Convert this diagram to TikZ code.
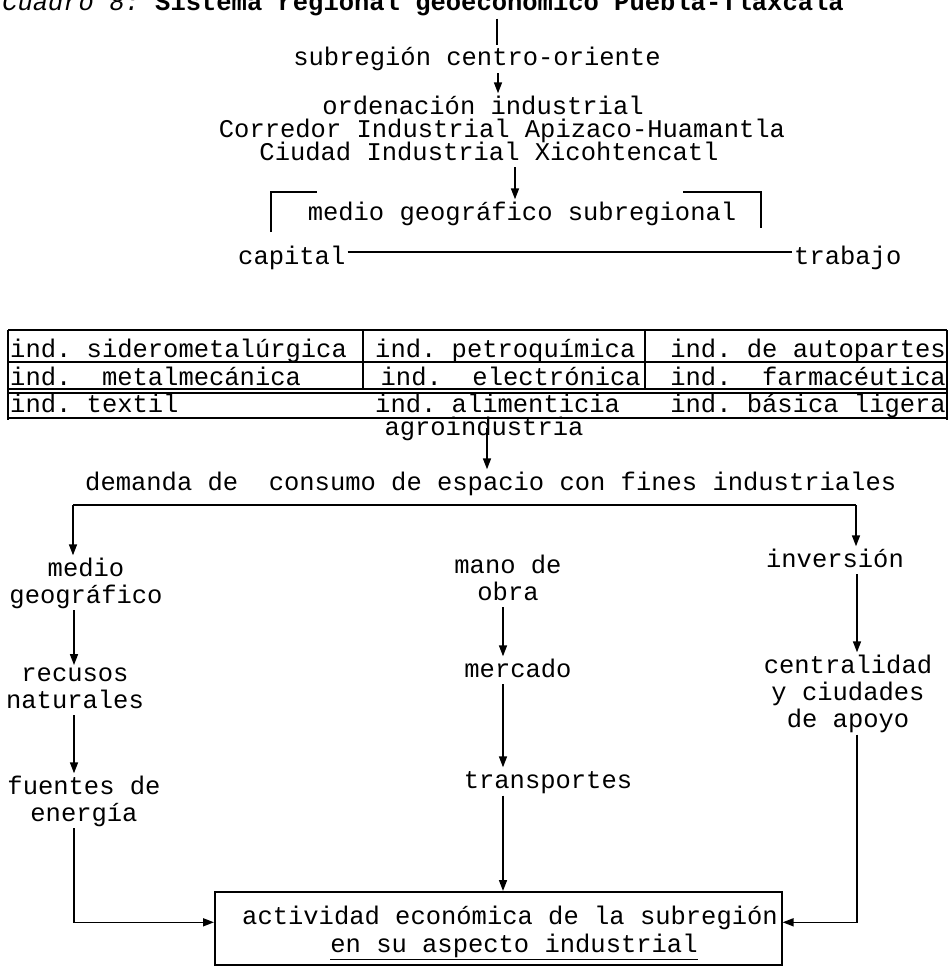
\documentclass[tikz,border=0pt]{standalone}
\usepackage{fontspec}
\setmainfont{Liberation Mono}
\usetikzlibrary{arrows.meta}
\frenchspacing

\begin{document}
\begin{tikzpicture}[x=1pt,y=-1pt,
    linea/.style={line width=1.6pt},
    flecha/.style={linea,-{Triangle[length=11pt,width=8pt]}},
    texto/.style={inner sep=2pt,anchor=base,align=center,
      font={\fontsize{25.5}{27}\selectfont},
      execute at begin node=\vphantom{d},
      execute at end node=\vphantom{g}}]
\useasboundingbox (0,0) rectangle (952,966);

% Marking title (cut at the top of the page)
\node[texto,anchor=base west] (titulo) at (0,11) {\textit{Cuadro 8:} \textbf{Sistema regional geoeconómico Puebla-Tlaxcala}};

% Marking upper texts
\node[texto] (subreg) at (477,66) {subregión centro-oriente};
\node[texto] (orden) at (483,114) {ordenación industrial};
\node[texto] (corredor) at (502,137) {Corredor Industrial Apizaco-Huamantla};
\node[texto] (ciudad) at (489,160) {Ciudad Industrial Xicohtencatl};
\node[texto] (mediosub) at (522,220) {medio geográfico subregional};
\node[texto,anchor=base west] (capital) at (236,264) {capital};
\node[texto,anchor=base west] (trabajo) at (792,264) {trabajo};

% Drawing line titulo subreg
\coordinate (ejeA) at (497,0);
\draw[linea] (titulo.south -| ejeA) -- (subreg.north -| ejeA);
% Drawing arrow subreg orden
\coordinate (ejeB) at (498,0);
\draw[flecha] (subreg.south -| ejeB) -- (orden.north -| ejeB);
% Drawing arrow ciudad mediosub
\coordinate (ejeC) at (515,0);
\draw[flecha] (ciudad.south -| ejeC) -- (mediosub.north -| ejeC);

% Drawing bracket round mediosub
\draw[linea] (271,232) -- (271,192) -- (317,192);
\draw[linea] (683,192) -- (761,192) -- (761,228);

% Drawing line capital trabajo
\draw[linea] ([yshift=12pt]capital.base east) -- ([yshift=12pt]trabajo.base west);

% Drawing table of industries
\draw[linea] (8,330) -- (947,330);
\draw[linea] (8,362) -- (947,362);
\draw[linea] (8,389) -- (947,389);
\draw[linea] (8,393) -- (947,393);
\draw[linea] (8,418) -- (947,418);
\draw[linea] (8,330) -- (8,420);
\draw[linea] (947,330) -- (947,420);
\draw[linea] (363,330) -- (363,390);
\draw[linea] (645,330) -- (645,390);

% Marking table cells
\node[texto,anchor=base west] (sider) at (8,357) {ind. siderometalúrgica};
\node[texto,anchor=base west] (petro) at (373,357) {ind. petroquímica};
\node[texto,anchor=base east] (autop) at (948,357) {ind. de autopartes};
\node[texto,anchor=base west] (metal) at (8,385) {ind.\ \ metalmecánica};
\node[texto,anchor=base east] (electr) at (643,385) {ind.\ \ electrónica};
\node[texto,anchor=base east] (farma) at (948,385) {ind.\ \ farmacéutica};
\node[texto,anchor=base west] (textil) at (8,412) {ind. textil};
\node[texto,anchor=base west] (alim) at (373,412) {ind. alimenticia};
\node[texto,anchor=base east] (basica) at (948,412) {ind. básica ligera};
\node[texto] (agro) at (484,435) {agroindustria};

% Marking demand
\node[texto,anchor=base west] (demanda) at (83,490) {demanda de\ \ consumo de espacio con fines industriales};

% Drawing arrow agro demanda
\coordinate (ejeD) at (487,0);
\draw[flecha] (agro.center -| ejeD) -- (demanda.north -| ejeD);

% Marking the three columns (base = last line)
\node[texto] (medio) at (86,603) {medio\\geográfico};
\node[texto] (mano) at (508,600) {mano de\\obra};
\node[texto] (inversion) at (835,567) {inversión};
\node[texto] (recusos) at (75,708) {recusos\\naturales};
\node[texto] (mercado) at (518,677) {mercado};
\node[texto] (central) at (848,727) {centralidad\\y ciudades\\de apoyo};
\node[texto] (fuentes) at (84,821) {fuentes de\\energía};
\node[texto] (transp) at (548,788) {transportes};

% Marking result box
\node[linea,draw,minimum width=567pt,minimum height=73pt,inner sep=0pt,anchor=north west] (act) at (214,891) {};
\node[texto] (actA) at (510,924) {actividad económica de la subregión};
\node[texto] (actB) at (514,952) {\underline{en su aspecto industrial}};

% Drawing branch demanda medio inversion
\coordinate (ramaI) at (73,505);
\coordinate (ramaD) at (856,505);
\draw[linea] (ramaI) -- (ramaD);
\draw[flecha] (ramaI) -- (medio.north -| ramaI);
\draw[flecha] (ramaD) -- (inversion.north -| ramaD);

% Drawing left column
\coordinate (colI) at (74,0);
\draw[flecha] (medio.south -| colI) -- (recusos.north -| colI);
\draw[flecha] (recusos.south -| colI) -- (fuentes.north -| colI);
\draw[flecha] (fuentes.south -| colI) |- ([yshift=6pt]act.west);

% Drawing middle column
\coordinate (colC) at (503,0);
\draw[flecha] (mano.south -| colC) -- (mercado.north -| colC);
\draw[flecha] (mercado.south -| colC) -- (transp.north -| colC);
\draw[flecha] (transp.south -| colC) -- (act.north -| colC);

% Drawing right column
\coordinate (colD) at (857,0);
\draw[flecha] (inversion.south -| colD) -- (central.north -| colD);
\draw[flecha] (central.south -| colD) |- ([yshift=6pt]act.east);
\end{tikzpicture}
\end{document}
